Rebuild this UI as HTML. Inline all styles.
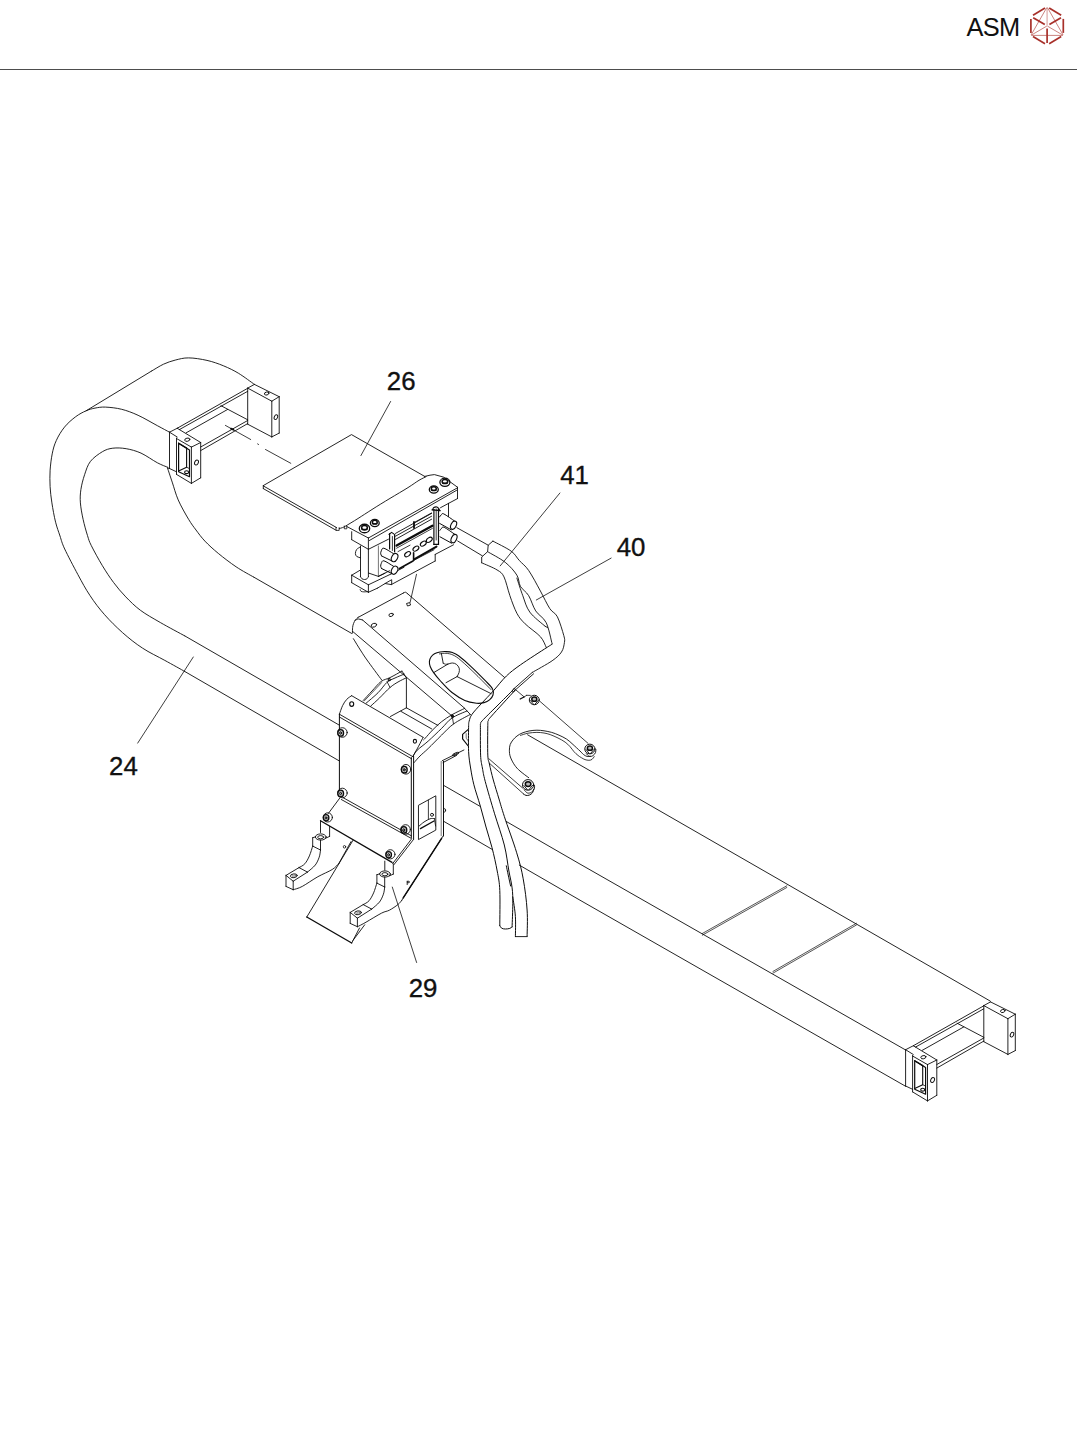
<!DOCTYPE html>
<html><head><meta charset="utf-8"><title>ASM</title>
<style>
html,body{margin:0;padding:0;background:#fff;}
body{width:1077px;height:1449px;position:relative;overflow:hidden;font-family:"Liberation Sans",sans-serif;}
.rule{position:absolute;left:0;top:69px;width:1077px;height:1px;background:#4d4d4d;}
</style></head><body>
<div class="rule"></div>
<svg width="1077" height="1449" viewBox="0 0 1077 1449" style="position:absolute;left:0;top:0">
<g fill="none" stroke="#0c0c0c" stroke-width="0.9" stroke-linecap="round" stroke-linejoin="round">
<path d="M390.6 401.5 L360.9 455.6" stroke-width="0.8"/>
<path d="M559.9 493 L500.2 565.9" stroke-width="0.8"/>
<path d="M611.1 558.1 L536.3 600" stroke-width="0.8"/>
<path d="M193.3 657 L137.7 743.1" stroke-width="0.8"/>
<path d="M392.3 887.1 L416.6 962.5" stroke-width="0.8"/>
<path d="M169.5 432.2 C167.5 431.1 162.6 428.5 157.4 425.7 C152.2 422.9 144 418 138.1 415.3 C132.2 412.6 127.2 410.7 121.7 409.3 C116.2 407.9 109.9 407.3 105.4 407.1 C101 406.9 98.2 407.5 95 408.1 C91.8 408.7 89.3 409.4 86.1 410.8 C82.9 412.2 79.3 414 75.7 416.7 C72.1 419.4 67.7 423.1 64.5 427.1 C61.3 431.1 58.3 436 56.3 440.5 C54.2 445 53.2 448.9 52.2 453.9 C51.2 458.8 50.5 464.8 50.1 470.2 C49.8 475.6 49.8 481.2 50.1 486.6 C50.4 492.1 51 497 51.9 502.9 C52.8 508.8 54.2 516.7 55.6 522.2 C57 527.7 58.5 531.5 60 536 C61.5 540.5 61.7 542.6 64.7 549 C67.7 555.4 73.7 566.8 77.9 574.6 C82.1 582.4 85.6 589 90.1 595.7 C94.5 602.4 99.2 608.6 104.6 614.7 C110 620.8 116.1 626.9 122.4 632.5 C128.7 638.1 135.4 643.5 142.5 648.1 C149.6 652.8 157.8 656.5 164.8 660.4 C171.9 664.3 181.5 669.6 184.8 671.5"/>
<path d="M167.8 467.3 C166.1 466.6 161.9 465.2 157.4 462.8 C152.9 460.4 146.2 455.5 141 453.1 C135.8 450.8 130.9 449.5 126.2 448.7 C121.5 447.9 116.8 447.7 112.8 448.2 C108.8 448.7 106.1 449.5 102.4 451.7 C98.7 453.9 93.5 457.5 90.5 461.3 C87.5 465.1 86.2 470 84.6 474.7 C83 479.4 81.6 484.8 80.9 489.5 C80.2 494.2 80 497.9 80.4 502.9 C80.8 507.9 81.9 513.8 83.1 519.3 C84.3 524.8 86.1 531.2 87.5 535.6 C88.9 540 88.8 540.6 91.3 545.6 C93.8 550.6 98.7 559.6 102.4 565.7 C106.1 571.8 109.6 577.2 113.5 582.4 C117.4 587.6 121.3 592.3 125.8 596.9 C130.3 601.5 134.6 605.9 140.3 610.2 C146.1 614.5 152.9 618.2 160.3 622.5 C167.7 626.8 180.7 633.7 184.8 635.9"/>
<path d="M167.5 468 C168.3 470.4 170.4 476.8 172.2 482.1 C174 487.4 175.5 493.7 178.2 499.9 C180.9 506.1 185.6 514.3 188.6 519.3 C191.6 524.3 193.3 526.4 196 530 C198.7 533.6 201.2 537.2 204.9 541.1 C208.6 545 213.1 549.1 218.3 553.4 C223.5 557.7 230.2 562.8 236.1 566.8 C242 570.8 250.9 575.5 253.9 577.2"/>
<path d="M167.5 468 L169.5 468.5"/>
<path d="M254.4 384.4 C251.8 382.6 243.8 376.5 238.7 373.4 C233.6 370.3 229 368.1 223.7 365.9 C218.4 363.7 212.8 361.7 207 360.4 C201.2 359.1 193.9 357.9 188.6 357.9 C183.3 357.8 179.4 359.1 175.2 360.1 C171 361.2 167.4 362.4 163.5 364.2 C159.6 366 153.8 369.8 151.8 370.9"/>
<path d="M151.8 370.9 L86.1 410.8"/>
<path d="M253.9 577.2 L351.6 633.4"/>
<path d="M527.6 734.8 L990.1 1001"/>
<path d="M184.8 635.9 L339.4 725.2"/>
<path d="M443.5 785.3 L479.6 806.1"/>
<path d="M506.3 821.5 L580 864.1 L905.5 1049.9"/>
<path d="M184.8 671.5 L339.4 761"/>
<path d="M443.5 821.2 L492 849.3"/>
<path d="M519.3 865.1 L580 900.2 L905.5 1086.2"/>
<path d="M702.3 933.5 L786.8 885.8" stroke-width="0.7"/>
<path d="M702.3 935.2 L786.8 887.5" stroke-width="0.7"/>
<path d="M772.9 971.5 L856.4 923.3" stroke-width="0.7"/>
<path d="M772.9 973.2 L856.4 925" stroke-width="0.7"/>
<path d="M169.5 432.2 L169.5 468.5"/>
<path d="M169.5 432.2 L177.3 428.2"/>
<path d="M169.5 432.2 L177.2 437"/>
<path d="M176.5 438 L176.5 474.4"/>
<path d="M177.3 428.3 L200.7 442.5"/>
<path d="M176.5 438.5 L191.4 447.1"/>
<path d="M191.4 447.1 L200.7 442.5"/>
<path d="M191.4 447.1 L191.4 483.4"/>
<path d="M200.7 442.5 L200.7 477.8"/>
<path d="M176.5 474.4 L191.4 483.4"/>
<path d="M191.4 483.4 L200.7 477.8"/>
<path d="M169.5 468.5 L176.5 471.8"/>
<path d="M178.6 443.2 L189.5 449.9 L189.5 476.7 L178.6 471.8Z" stroke-width="1.2"/>
<path d="M186.6 448.1 L186.6 467.2 L178.6 470.9" stroke-width="1.1"/>
<path d="M178.6 443.2 L186.6 448.1" stroke-width="1.3"/>
<path d="M186.6 467.2 L189.5 468.6" stroke-width="0.8"/>
<ellipse cx="187.3" cy="439.7" rx="2.6" ry="1.6" transform="rotate(-12 187.3 439.7)"/>
<ellipse cx="196.5" cy="462.5" rx="1.8" ry="2.6" transform="rotate(25 196.5 462.5)"/>
<ellipse cx="186.6" cy="472.2" rx="2.0" ry="1.4" stroke-width="1.1"/>
<path d="M177.3 428.2 L247.7 388.3"/>
<path d="M179.4 429.6 L247.7 391.3"/>
<path d="M186.2 432.8 L227.7 409.4"/>
<path d="M221 405.7 L247.7 419.8"/>
<path d="M200.7 447 L247.7 420.5"/>
<path d="M200.7 450.6 L247.7 423.6"/>
<path d="M247.7 388.1 L247.7 424.2"/>
<path d="M247.7 388.1 L254.4 384.4"/>
<path d="M254.4 384.4 L279.2 396.7"/>
<path d="M247.7 388.1 L271.8 401.2"/>
<path d="M271.8 401.2 L279.2 396.7"/>
<path d="M271.8 401.2 L271.8 436.9"/>
<path d="M279.2 396.7 L279.2 433.1"/>
<path d="M247.7 424.2 L271.8 436.9"/>
<path d="M271.8 436.9 L279.2 433.1"/>
<ellipse cx="266.7" cy="393.5" rx="2.3" ry="1.5" transform="rotate(-15 266.7 393.5)"/>
<ellipse cx="275.9" cy="417.2" rx="1.6" ry="2.5" transform="rotate(25 275.9 417.2)"/>
<path d="M905.6 1049.7 L905.6 1086"/>
<path d="M905.6 1049.7 L913.4 1045.7"/>
<path d="M905.6 1049.7 L913.3 1054.5"/>
<path d="M912.6 1055.5 L912.6 1091.9"/>
<path d="M913.4 1045.8 L936.8 1060"/>
<path d="M912.6 1056 L927.5 1064.6"/>
<path d="M927.5 1064.6 L936.8 1060"/>
<path d="M927.5 1064.6 L927.5 1100.9"/>
<path d="M936.8 1060 L936.8 1095.3"/>
<path d="M912.6 1091.9 L927.5 1100.9"/>
<path d="M927.5 1100.9 L936.8 1095.3"/>
<path d="M905.6 1086 L912.6 1089.3"/>
<path d="M914.7 1060.7 L925.6 1067.4 L925.6 1094.2 L914.7 1089.3Z" stroke-width="1.2"/>
<path d="M922.7 1065.6 L922.7 1084.7 L914.7 1088.4" stroke-width="1.1"/>
<path d="M914.7 1060.7 L922.7 1065.6" stroke-width="1.3"/>
<path d="M922.7 1084.7 L925.6 1086.1" stroke-width="0.8"/>
<ellipse cx="923.4" cy="1057.2" rx="2.6" ry="1.6" transform="rotate(-12 923.4 1057.2)"/>
<ellipse cx="932.6" cy="1080" rx="1.8" ry="2.6" transform="rotate(25 932.6 1080)"/>
<ellipse cx="922.7" cy="1089.7" rx="2.0" ry="1.4" stroke-width="1.1"/>
<path d="M913.4 1045.7 L983.8 1005.8"/>
<path d="M915.5 1047.1 L983.8 1008.8"/>
<path d="M922.3 1050.3 L963.8 1026.9"/>
<path d="M957.1 1023.2 L983.8 1037.3"/>
<path d="M936.8 1064.5 L983.8 1038"/>
<path d="M936.8 1068.1 L983.8 1041.1"/>
<path d="M983.8 1005.6 L983.8 1041.7"/>
<path d="M983.8 1005.6 L990.5 1001.9"/>
<path d="M990.5 1001.9 L1015.3 1014.2"/>
<path d="M983.8 1005.6 L1007.9 1018.7"/>
<path d="M1007.9 1018.7 L1015.3 1014.2"/>
<path d="M1007.9 1018.7 L1007.9 1054.4"/>
<path d="M1015.3 1014.2 L1015.3 1050.6"/>
<path d="M983.8 1041.7 L1007.9 1054.4"/>
<path d="M1007.9 1054.4 L1015.3 1050.6"/>
<ellipse cx="1002.8" cy="1011" rx="2.3" ry="1.5" transform="rotate(-15 1002.8 1011)"/>
<ellipse cx="1012" cy="1034.7" rx="1.6" ry="2.5" transform="rotate(25 1012 1034.7)"/>
<path d="M225.4 425.4 L250.7 439.5" stroke-width="0.8"/>
<path d="M257.6 443.9 L258.6 444.5" stroke-width="0.8"/>
<path d="M265.5 449.5 L290.8 463.3" stroke-width="0.8"/>
<path d="M231 428.6 L233.4 429.6" stroke-width="1.8"/>
<path d="M263.3 485.6 L351.5 434.6 L424.7 476.4"/>
<path d="M263.3 485.6 L263.3 488.6"/>
<path d="M263.3 485.9 L336.6 527.6"/>
<path d="M263.3 488.6 L336 530.2"/>
<path d="M336 527.4 L336 530.4 L339.2 530.4 L339.2 527.6" stroke-width="0.8"/>
<path d="M339.2 528.6 C339.8 528.4 341.5 528 342.5 527.6 C343.5 527.2 342.7 527.7 345.3 526.2 C347.9 524.7 353.6 521.3 358 518.5 C362.4 515.7 366.7 512.9 372 509.5 C377.3 506.1 384 502 390 498.4 C396 494.8 403.2 490.6 408 487.6 C412.8 484.6 416 482.1 419 480.3 C422 478.5 424.9 477.3 426.1 476.7"/>
<path d="M344.3 526 L344.3 528.8 L346.8 528.8 L346.8 526.3" stroke-width="0.8"/>
<path d="M424.7 476.4 L430 475.2 L434.4 474.6 L443.5 477.1 L457.5 487.2"/>
<path d="M457.5 487.2 L457.5 498.6"/>
<path d="M457.5 487.8 L368.4 538"/>
<path d="M456.6 490.3 L369.4 540.5"/>
<path d="M346.8 526.5 L368.4 538"/>
<path d="M351.7 531.7 L351.7 539.7"/>
<path d="M351.7 539.7 L368.4 549.3"/>
<path d="M368.4 538 L368.4 549.3"/>
<path d="M457.5 498.6 L448.5 503.4"/>
<path d="M448.5 503.4 L448.5 516.6"/>
<path d="M448.5 503.4 L440.5 507.7"/>
<path d="M368.4 549.3 L388.5 539.2"/>
<path d="M413.4 523 L431.5 513"/>
<ellipse cx="444.9" cy="482.3" rx="5.0" ry="4.1" stroke-width="1.3"/>
<ellipse cx="444.9" cy="481.5" rx="2.75" ry="2.1" stroke-width="1.5"/>
<path d="M442.4 483.1 L447.4 483.1" stroke-width="1.0"/>
<ellipse cx="433.8" cy="489.5" rx="4.5" ry="3.69" stroke-width="1.3"/>
<ellipse cx="433.8" cy="488.7" rx="2.475" ry="1.89" stroke-width="1.5"/>
<path d="M431.6 490.3 L436.1 490.3" stroke-width="1.0"/>
<ellipse cx="374.8" cy="523" rx="4.4" ry="3.608" stroke-width="1.3"/>
<ellipse cx="374.8" cy="522.2" rx="2.4200000000000004" ry="1.848" stroke-width="1.5"/>
<path d="M372.6 523.8 L377 523.8" stroke-width="1.0"/>
<ellipse cx="364.5" cy="528.5" rx="5.2" ry="4.264" stroke-width="1.3"/>
<ellipse cx="364.5" cy="527.7" rx="2.8600000000000003" ry="2.184" stroke-width="1.5"/>
<path d="M361.9 529.3 L367.1 529.3" stroke-width="1.0"/>
<path d="M360.5 546 L360.5 576.6"/>
<path d="M368.4 549.3 L368.4 576.6"/>
<path d="M360.5 576.6 C360.8 577 361.3 578.3 362 578.8 C362.7 579.3 363.8 579.5 364.7 579.5 C365.6 579.5 366.6 579.1 367.2 578.6 C367.8 578.1 368.2 576.9 368.4 576.6"/>
<path d="M360.5 546.8 C359.9 547.2 357.5 548.4 356.6 549.5 C355.8 550.6 355.4 552.3 355.4 553.5 C355.4 554.7 355.9 555.8 356.8 556.5 C357.7 557.2 359.9 557.6 360.5 557.8"/>
<path d="M378.4 546 L378.4 576.4" stroke="#666"/>
<path d="M351.7 575.2 L360.1 570.2"/>
<path d="M351.7 575.2 L368.4 584.8"/>
<path d="M351.7 575.2 L351.7 582.7"/>
<path d="M351.7 582.7 L368.4 592.3"/>
<path d="M368.4 584.8 L368.4 592.3"/>
<path d="M368.4 584.8 L391 574"/>
<path d="M368.4 573 L378.4 576.4"/>
<path d="M378.4 576.4 L385 573.2"/>
<path d="M368.4 592.3 L377.6 588.1"/>
<path d="M377.6 588.1 L385.1 583.5 L391.7 584.7 L391.7 579.7 L385.1 583.5"/>
<path d="M391.6 584.4 L435.2 561"/>
<path d="M435.2 561 L435.2 554.4"/>
<path d="M435.2 554.4 L453.5 544.8"/>
<path d="M391 574 L404 567.3"/>
<path d="M360.2 589.6 C360.3 589.9 360.4 590.9 361 591.3 C361.6 591.7 362.9 591.8 364 591.9 C365.1 592 366.9 591.6 367.5 591.6" stroke-width="0.8"/>
<path d="M456.9 527.7 L488.2 545.2"/>
<path d="M457.7 541 L482.3 555.8"/>
<path d="M433.9 509.3 L433.9 544.4" stroke-width="1.2"/>
<path d="M438.5 509.3 L438.5 544.4" stroke-width="1.2"/>
<path d="M436.2 509 L436.2 540" stroke-width="0.8"/>
<path d="M432.6 509.6 C432.8 509.3 433.1 508 433.8 507.6 C434.5 507.2 436 506.8 436.8 507 C437.6 507.2 438.3 508 438.8 508.6 C439.3 509.2 439.5 510.3 439.6 510.6" stroke-width="1.1"/>
<path d="M432 509.8 L440.2 510.6" stroke-width="1.2"/>
<path d="M433.9 544.4 L438.5 544.4" stroke-width="1.2"/>
<path d="M389.6 533.6 L389.6 549" stroke-width="1.2"/>
<path d="M394.6 535.2 L394.6 551.8" stroke-width="1.2"/>
<path d="M392.4 536.5 L392.4 550.5" stroke-width="0.8"/>
<path d="M389 534.4 L391.6 532.4 L394.8 534.6" stroke-width="1.1"/>
<path d="M395.5 533.4 L431.6 513.4"/>
<path d="M395.5 536.2 L431.6 516.2"/>
<path d="M395.5 539.4 L431.6 519.2"/>
<path d="M414 522 L414 528" stroke-width="1.8"/>
<path d="M396.6 545.6 L432.4 525.8" stroke-width="2.3"/>
<path d="M396.6 548.2 L432.4 528.4" stroke-width="0.8"/>
<path d="M398 551.6 L410 545.2" stroke-width="0.8"/>
<ellipse cx="407.6" cy="554.2" rx="3.3" ry="2.0" stroke-width="1.1" transform="rotate(-35 407.6 554.2)"/>
<ellipse cx="415.9" cy="548.6" rx="3.3" ry="2.0" stroke-width="1.1" transform="rotate(-35 415.9 548.6)"/>
<ellipse cx="423.3" cy="543.6" rx="3.3" ry="2.0" stroke-width="1.1" transform="rotate(-35 423.3 543.6)"/>
<ellipse cx="429.3" cy="539.8" rx="3.3" ry="2.0" stroke-width="1.1" transform="rotate(-35 429.3 539.8)"/>
<path d="M413.6 552.8 L413.6 560.4" stroke-width="1.6"/>
<path d="M399.5 568.5 L413 561" stroke-width="1.6"/>
<path d="M414.5 559.2 L436.5 546.6" stroke-width="2.0"/>
<path d="M413.6 560.4 L434 549.8" stroke-width="0.8"/>
<path d="M378.4 576.4 L389.5 570.8"/>
<path d="M352.5 633.1 C352.5 632.2 352.4 629.1 352.6 627.5 C352.8 625.9 353.1 624.6 353.6 623.4 C354.1 622.1 354.6 621 355.4 620 C356.1 619 357.7 617.8 358.1 617.4"/>
<path d="M358.1 617.4 L403.6 592.9"/>
<path d="M403.6 592.9 C403.9 592.8 404.8 592.1 405.4 592.2 C406 592.3 406.9 593.2 407.2 593.4"/>
<path d="M407.2 593.4 L504.6 677.5"/>
<path d="M362.7 620.1 L464.8 708.4"/>
<path d="M355 620.4 C355.6 620.2 357.3 619 358.6 619 C359.9 619 362 619.9 362.7 620.1"/>
<path d="M352.5 631.3 L452.8 716.7"/>
<path d="M353.4 638.7 C354.7 640.8 358.7 647.5 361 651 C363.3 654.5 363.5 655.1 367 660 C370.5 664.9 379.3 676.8 381.8 680.1"/>
<ellipse cx="373.9" cy="625.2" rx="2.8" ry="1.8" transform="rotate(-20 373.9 625.2)"/>
<ellipse cx="391.1" cy="614.9" rx="2.3" ry="1.5" transform="rotate(-20 391.1 614.9)"/>
<path d="M406.9 603.4 L409.6 602.6 L410.6 605 L407.9 605.9Z"/>
<path d="M416.5 574.3 L410.1 602.5" stroke-width="0.8"/>
<path d="M429.4 661.5 C429.5 659.9 430.1 658.3 431 657 C431.9 655.7 433 654.6 434.5 653.8 C436 653 438 652.4 440 652 C442 651.6 444.2 651.5 446.3 651.6 C448.4 651.7 450.5 651.9 452.5 652.6 C454.5 653.3 455.6 653.6 458.5 655.8 C461.4 658 465.6 661.5 470 665.6 C474.4 669.7 481.2 676.5 485 680.4 C488.8 684.3 491.3 686.5 492.6 688.9 C493.9 691.3 493.5 693.2 493 695 C492.5 696.8 491 698.5 489.5 699.8 C488 701.1 486.2 702 484 702.6 C481.8 703.2 479.7 703.6 476.5 703.2 C473.3 702.8 468.9 702.2 464.8 700.4 C460.7 698.6 456.1 695.7 452 692.5 C447.9 689.3 443.6 684.4 440.5 681 C437.4 677.6 435 674.5 433.3 672.1 C431.6 669.7 430.9 668.3 430.2 666.5 C429.5 664.7 429.3 663.1 429.4 661.5Z" stroke-width="1.1"/>
<path d="M439.5 653.9 C440.6 653.8 443.8 653.1 446 653.3 C448.2 653.5 450.5 653.8 453 655 C455.5 656.2 457.2 657.2 461 660.5 C464.8 663.8 471 669.6 476 674.5 C481 679.4 488.5 687.1 491 689.6" stroke-width="0.8"/>
<path d="M433.9 672.5 L447.9 664.1"/>
<path d="M447.9 664.1 C448.6 663.9 451 663 452.4 663 C453.8 663 455.4 663.5 456.5 664.4 C457.6 665.3 458.8 666.8 459.2 668.2 C459.6 669.6 459.4 671.2 459 672.6 C458.6 674 457.4 675.9 457.1 676.6"/>
<path d="M446 682.7 L457.1 676.6"/>
<path d="M457.1 676.6 L491 693.6"/>
<path d="M441.4 653.6 L443.2 663.2"/>
<path d="M443.2 663.2 C443.6 663.4 444.7 664.1 445.5 664.2 C446.3 664.4 447.5 664.1 447.9 664.1" stroke-width="0.8"/>
<path d="M339.4 714.2 L339.4 796.7" stroke-width="1.0"/>
<path d="M339.4 714.2 C339.9 712.8 341.4 708.1 342.6 705.6 C343.8 703.1 345.3 700.9 346.8 699.3 C348.3 697.6 350.9 696.3 351.7 695.7"/>
<path d="M351.7 695.7 L423.1 737.3"/>
<path d="M423.1 737.3 C422.4 738.8 420.3 743 418.6 746.2 C416.9 749.4 413.7 754.9 412.7 756.6"/>
<path d="M339.4 714.2 L412.7 756.6"/>
<path d="M339.4 717 L411.6 758.8"/>
<path d="M411.3 757.5 L411.3 838.4" stroke-width="1.0"/>
<path d="M413.6 756 L413.6 839.4" stroke-width="1.0"/>
<ellipse cx="351.7" cy="704.1" rx="2.0" ry="2.3" stroke-width="1.1"/>
<ellipse cx="414.9" cy="741.3" rx="1.6" ry="1.9" stroke-width="1.1"/>
<ellipse cx="342.4" cy="732.5" rx="4.8" ry="4.8" stroke-width="0.9"/>
<ellipse cx="340.7" cy="732.9" rx="2.88" ry="3.2640000000000002" stroke-width="1.3" fill="#ccc"/>
<ellipse cx="340.6" cy="733" rx="0.96" ry="1.2" stroke-width="1.0"/>
<ellipse cx="406" cy="769.3" rx="4.8" ry="4.8" stroke-width="0.9"/>
<ellipse cx="404.3" cy="769.7" rx="2.88" ry="3.2640000000000002" stroke-width="1.3" fill="#ccc"/>
<ellipse cx="404.2" cy="769.8" rx="0.96" ry="1.2" stroke-width="1.0"/>
<ellipse cx="342.4" cy="793" rx="4.8" ry="4.8" stroke-width="0.9"/>
<ellipse cx="340.7" cy="793.4" rx="2.88" ry="3.2640000000000002" stroke-width="1.3" fill="#ccc"/>
<ellipse cx="340.6" cy="793.5" rx="0.96" ry="1.2" stroke-width="1.0"/>
<ellipse cx="405.6" cy="829.5" rx="4.8" ry="4.8" stroke-width="0.9"/>
<ellipse cx="403.9" cy="829.9" rx="2.88" ry="3.2640000000000002" stroke-width="1.3" fill="#ccc"/>
<ellipse cx="403.8" cy="830" rx="0.96" ry="1.2" stroke-width="1.0"/>
<ellipse cx="327.8" cy="817.4" rx="4.6" ry="4.6" stroke-width="0.9"/>
<ellipse cx="326.1" cy="817.8" rx="2.76" ry="3.128" stroke-width="1.3" fill="#ccc"/>
<ellipse cx="326" cy="817.9" rx="0.9199999999999999" ry="1.15" stroke-width="1.0"/>
<ellipse cx="390.4" cy="854.3" rx="4.6" ry="4.6" stroke-width="0.9"/>
<ellipse cx="388.7" cy="854.7" rx="2.76" ry="3.128" stroke-width="1.3" fill="#ccc"/>
<ellipse cx="388.6" cy="854.8" rx="0.9199999999999999" ry="1.15" stroke-width="1.0"/>
<path d="M343 797.6 L411.5 835.9"/>
<path d="M341.3 799.5 L410.6 838"/>
<path d="M339.9 797.9 L328.4 813.4"/>
<path d="M363.2 700.5 C364.7 698.9 369 694.2 372 691 C375 687.8 378.1 683.7 381.1 681.5 C384.1 679.3 386.5 679.3 390 677.6 C393.5 675.9 399.9 672.2 401.9 671.1"/>
<path d="M364.2 701 L381.6 682.6" stroke-width="0.7"/>
<path d="M366.2 703.1 C368.2 701.4 374.6 696.2 378.1 692.7 C381.6 689.2 384.2 684.8 387 682.3 C389.8 679.8 392.1 679.4 395 678 C397.9 676.6 402.6 674.8 404.1 674.1"/>
<path d="M370.7 706.1 C372.2 704.7 376.4 701 379.6 697.9 C382.8 694.8 386.9 690.1 390 687.5 C393.1 684.9 395.3 683.6 398 682 C400.7 680.4 404.9 678.5 406.3 677.8"/>
<path d="M401.9 671.1 L406.3 677.5"/>
<path d="M387 681.6 L390 687.5" stroke-width="0.8"/>
<ellipse cx="389.2" cy="679.7" rx="1.1" ry="1.1" stroke-width="1.1"/>
<path d="M406.4 677.8 L406.4 707.8"/>
<path d="M406.4 707.8 L390.4 716.5"/>
<path d="M406.4 707.8 L437.9 725.4"/>
<path d="M400.8 711.3 L432 729.1"/>
<path d="M423.6 739.8 C423.9 739.5 423.8 739.8 425.3 738.1 C426.8 736.5 430 732.6 432.7 729.9 C435.4 727.2 438.4 724.2 441.6 721.7 C444.8 719.2 448.2 716.9 452 714.7 C455.8 712.5 462.5 709.5 464.6 708.4"/>
<path d="M412.9 756.6 C413.6 755.5 414.6 752.9 417.1 750.3 C419.7 747.7 424.1 744.8 428.2 741.1 C432.3 737.5 437.6 732.2 441.6 728.4 C445.6 724.5 447.8 720.9 452 718 C456.2 715.1 464.4 712.2 466.9 711"/>
<path d="M414.1 762.6 C415.1 761.5 417.6 758.4 420 756 C422.4 753.6 424.6 752 428.2 748.5 C431.8 745 437.4 739.2 441.6 735.1 C445.8 731 448.8 727.4 453.5 724 C458.2 720.6 467.1 716.2 469.8 714.7"/>
<path d="M464.6 708.4 L470.6 714.7"/>
<path d="M452 714.7 L453.5 724" stroke-width="0.8"/>
<ellipse cx="452.4" cy="716.2" rx="1.1" ry="1.1" stroke-width="1.1"/>
<path d="M442.3 760.7 L463.9 750"/>
<path d="M443 762.6 L456.6 755.4"/>
<ellipse cx="455.6" cy="754" rx="3.4" ry="1.0" stroke-width="0.9" transform="rotate(-27 455.6 754)"/>
<path d="M441.2 761.4 L441.2 835.7" stroke-width="0.8" stroke="#555"/>
<path d="M443.5 761.4 L443.5 836" stroke-width="1.0"/>
<path d="M468 729.6 L462.6 734.4 L462.6 738.8 L467.8 745.5" stroke-width="1.2"/>
<path d="M466.2 733.6 L466.2 738.2 L468 740.6" stroke-width="0.8" stroke="#555"/>
<ellipse cx="444.6" cy="810.3" rx="1.0" ry="1.8" stroke-width="0.8"/>
<path d="M418.8 805.1 L435.8 795.8 L435.8 830.1 L418.8 839.4Z"/>
<path d="M428.4 800.2 L428.4 818.6" stroke-width="0.8"/>
<ellipse cx="432" cy="814.8" rx="1.5" ry="1.5" stroke-width="0.9"/>
<path d="M419.2 826 C420 825.3 422.2 823.2 424 822 C425.8 820.8 428.3 819.4 430 818.8 C431.7 818.2 433.7 818.6 434.4 818.6" stroke-width="0.9"/>
<path d="M420.4 828.6 L434 821" stroke-width="1.3"/>
<path d="M434.4 818.6 L435.6 826" stroke-width="0.8"/>
<path d="M443.3 835.7 L401.5 900.7"/>
<path d="M441.6 838.3 L403.2 897.9" stroke-width="1.5"/>
<path d="M407.2 881.2 L407.2 884.6" stroke-width="0.9"/>
<ellipse cx="408.2" cy="882" rx="1.0" ry="0.9" stroke-width="0.8"/>
<path d="M401.5 900.7 C400.9 901.3 400 902.9 398 904.5 C396 906.1 392.1 908.8 389.4 910.2 C386.7 911.6 385.5 911.1 381.6 913.1 C377.7 915.1 370 919.9 366 922.2 C362 924.5 358.9 926 357.5 926.7"/>
<path d="M320.5 820.8 L392 862.4" stroke-width="1.3"/>
<path d="M411.5 839 L392.6 863.7"/>
<path d="M413.4 839.6 L394 864.6"/>
<path d="M320.5 820.8 L320.5 832.5"/>
<path d="M329.6 826.4 L329.6 836.4"/>
<path d="M329.6 836.4 L325.2 838.4"/>
<ellipse cx="320.8" cy="837" rx="5.4" ry="3.1"/>
<ellipse cx="320.7" cy="837.2" rx="3.0" ry="1.6" stroke-width="0.9"/>
<path d="M312.7 837.7 L315.6 836.8"/>
<path d="M312.7 837.7 L312.7 846.1"/>
<path d="M320.5 840 L320.5 850"/>
<path d="M312.7 846.1 L320.5 850"/>
<path d="M312.7 846.1 C312.1 847.7 310.7 853 309.4 855.9 C308.1 858.8 306.6 861.8 304.9 863.7 C303.2 865.7 300 867 299 867.6"/>
<path d="M299 867.6 L286 875.4"/>
<path d="M320.5 850 C320.3 851.2 320.1 854.7 319.2 857.2 C318.3 859.7 317.2 862.5 315.3 865 C313.4 867.5 308.8 870.9 307.5 872.1"/>
<path d="M299 867.6 L307.5 872.1"/>
<path d="M286 875.4 L286 886.4"/>
<path d="M286 875.4 L293.2 881.2"/>
<path d="M293.2 881.2 L293.2 889.7"/>
<path d="M286 886.4 L293.2 889.7"/>
<path d="M293.2 881.2 L307.5 872.1"/>
<ellipse cx="293.8" cy="875.8" rx="3.4" ry="1.9" transform="rotate(-8 293.8 875.8)"/>
<ellipse cx="294" cy="876" rx="1.8" ry="0.9" stroke="#555" stroke-width="0.6" transform="rotate(-8 294 876)"/>
<path d="M293.2 889.7 C294.7 889.2 298.2 888.6 302.3 886.4 C306.4 884.2 312.9 879.5 317.9 876.7 C322.9 873.9 328.7 871.7 332.2 869.5 C335.7 867.3 337.6 864.7 338.7 863.7"/>
<ellipse cx="385" cy="874" rx="5.4" ry="3.1"/>
<ellipse cx="384.9" cy="874.2" rx="3.0" ry="1.6" stroke-width="0.9"/>
<path d="M376.9 874.7 L379.8 873.8"/>
<path d="M376.9 874.7 L376.9 883.1"/>
<path d="M384.7 877 L384.7 887"/>
<path d="M376.9 883.1 L384.7 887"/>
<path d="M376.9 883.1 C376.3 884.7 374.9 890 373.6 892.9 C372.3 895.8 370.8 898.8 369.1 900.7 C367.4 902.7 364.2 904 363.2 904.6"/>
<path d="M363.2 904.6 L350.2 912.4"/>
<path d="M384.7 887 C384.5 888.2 384.3 891.7 383.4 894.2 C382.5 896.7 381.4 899.5 379.5 902 C377.6 904.5 373 907.9 371.7 909.1"/>
<path d="M363.2 904.6 L371.7 909.1"/>
<path d="M350.2 912.4 L350.2 923.4"/>
<path d="M350.2 912.4 L357.4 918.2"/>
<path d="M357.4 918.2 L357.4 926.7"/>
<path d="M350.2 923.4 L357.4 926.7"/>
<path d="M357.4 918.2 L371.7 909.1"/>
<ellipse cx="358" cy="912.8" rx="3.4" ry="1.9" transform="rotate(-8 358 912.8)"/>
<ellipse cx="358.2" cy="913" rx="1.8" ry="0.9" stroke="#555" stroke-width="0.6" transform="rotate(-8 358.2 913)"/>
<path d="M384.8 861.1 L384.8 870.2"/>
<path d="M393.3 863.9 L393.3 874.1"/>
<path d="M393.3 874.1 L389.2 876"/>
<path d="M353 840.3 L306.8 917"/>
<path d="M351 841.6 L338.7 863.7"/>
<path d="M306.8 917 L351.7 943" stroke-width="1.4"/>
<path d="M351.7 943 L359.5 928"/>
<path d="M353 940.4 L364.7 924.8"/>
<ellipse cx="344.5" cy="846.8" rx="1.2" ry="1.3" stroke-width="0.8"/>
<path d="M492.9 541.1 L488.2 545.2 L487.6 551.7 L481.7 557 L481.7 562.8"/>
<path d="M492.9 541.1 C495.9 542.8 506.7 547.9 511.1 551.1 C515.5 554.3 516.4 557.3 519.3 560.5 C522.2 563.7 525.2 565.4 528.7 570.5 C532.2 575.6 536.9 584.6 540.4 591 C543.9 597.4 547 604.3 549.8 608.6 C552.6 612.9 555.1 612.3 557.4 616.8 C559.7 621.3 562.6 631.3 563.8 635.6 C565 639.9 564.8 639.9 564.4 642.6 C564 645.3 563.5 649 561.5 652 C559.5 655 557 657.4 552.1 660.8 C547.2 664.2 535.5 670.5 532.2 672.5"/>
<path d="M487.6 551.7 C490.5 553.5 500.3 558.4 505.2 562.3 C510.1 566.2 514.4 571.2 516.9 575.2 C519.4 579.2 518.4 582.9 520.4 586.3 C522.4 589.7 526.2 591.6 528.7 595.7 C531.2 599.8 532.8 606.4 535.7 610.9 C538.6 615.4 543.5 617.2 546.2 622.7 C548.9 628.2 551.1 640.3 552.1 643.8"/>
<path d="M516.9 578.1 C517.9 581 520.6 590 522.8 595.7 C524.9 601.4 526.1 607 529.8 612.1 C533.5 617.2 542.5 623.9 545.1 626.2"/>
<path d="M545.1 626.2 L547.6 627.6"/>
<path d="M481.7 562.8 C484.2 564 493.3 567.5 497 569.9 C500.7 572.2 501.9 572.6 504 576.9 C506.1 581.2 507.8 589.6 509.9 595.7 C512 601.8 514.4 608.6 516.9 613.3 C519.4 618 521.2 619.9 525.1 623.8 C529 627.7 536.9 632.8 540.4 636.7 C543.9 640.6 545.2 645.5 546.2 647.3"/>
<path d="M546.2 647.9 L552.1 644.2"/>
<path d="M546.2 647.9 C541.9 650.7 527 660.2 520.4 664.9 C513.8 669.6 510.9 671.7 506.4 676 C501.9 680.3 497.7 686 493.5 690.7 C489.3 695.4 484.6 700.1 481 704 C477.4 707.9 474 711.5 472 714.3 C470 717.1 469.8 718.8 469.2 721 C468.6 723.2 468.7 722.2 468.6 727.3 C468.5 732.4 468.3 744.6 468.6 751.4 C468.9 758.2 469.7 762.4 470.6 768 C471.5 773.6 472.3 778.5 473.9 784.8 C475.5 791.1 478.3 799 480.3 806 C482.3 813 484.1 820.1 486 827 C487.9 833.9 490.1 840.3 492 847.6 C493.9 854.9 495.9 863.9 497.2 871 C498.5 878.1 499.4 881.4 499.8 890.5 C500.2 899.6 499.8 919.8 499.8 925.6" stroke-width="1.0"/>
<path d="M532.2 672.5 L512.9 689.6" stroke-width="0.9"/>
<path d="M533.6 673.8 L514.6 690.6" stroke-width="0.9"/>
<ellipse cx="513.6" cy="690.4" rx="1.0" ry="2.2" stroke-width="0.8" transform="rotate(40 513.6 690.4)"/>
<path d="M512.9 690.1 C510.2 692.8 502.1 700.9 497 706 C491.9 711.1 484.9 717.8 482.2 720.8 C479.5 723.8 480.9 722.9 480.6 724 C480.3 725.1 480.4 722.1 480.4 727.3 C480.4 732.5 480.3 748.3 480.6 755.1 C480.9 761.9 481.6 763.6 482.4 768 C483.2 772.4 483.2 773.7 485.2 781.3 C487.2 788.9 491.4 803.2 494.6 813.8 C497.8 824.4 501.9 835.5 504.3 845 C506.7 854.5 507.6 863.9 508.9 871 C510.2 878.1 511.5 882.5 512.1 887.9 C512.8 893.3 512.8 897 512.8 903.5 C512.8 910 512.2 923 512.1 926.9" stroke-width="1.0"/>
<path d="M514.7 690.6 C510.8 694.9 495.9 711.1 491.5 716.1 C487.1 721.1 489 719 488.4 720.5 C487.8 722 487.9 719.6 487.8 725.4 C487.7 731.2 487.5 748.7 487.8 755.1 C488.1 761.5 488.5 759.9 489.4 764 C490.3 768.1 491.7 774.2 493.3 780 C494.9 785.8 497.2 792.9 499 799 C500.8 805.1 501.4 807.4 504.3 816.4 C507.2 825.4 513.6 842.4 516.7 852.8 C519.9 863.2 521.5 869.3 523.2 878.8 C524.9 888.3 526.5 900.4 527.1 910 C527.8 919.6 527.1 932 527.1 936.4" stroke-width="1.0"/>
<path d="M506.3 865.8 C506.6 867.3 507.5 871.5 508.2 874.9 C508.9 878.3 510.2 884.1 510.6 886" stroke-width="1.0"/>
<path d="M512.8 897 C513.2 900.2 515 909.9 515.4 916.5 C515.8 923.1 515.4 933.2 515.4 936.6" stroke-width="1.0"/>
<path d="M515.4 936.6 L527.1 936.6"/>
<path d="M499.8 925.6 C500.1 926 500.7 927.6 501.6 928.2 C502.5 928.8 504 929 505.4 929 C506.8 929 508.7 928.8 509.8 928.4 C510.9 928 511.7 927.1 512.1 926.9" stroke-width="1.0"/>
<ellipse cx="534.3" cy="700" rx="5.0" ry="4.75" stroke-width="1.0"/>
<ellipse cx="534.3" cy="699.2" rx="2.5" ry="2.1" stroke-width="1.5" fill="#bbb"/>
<path d="M530.5 700.6 L533.5 704.2" stroke-width="0.9"/>
<path d="M535 704.2 L538.3 700.4" stroke-width="0.9"/>
<ellipse cx="589.9" cy="749" rx="5.1" ry="4.845" stroke-width="1.0"/>
<ellipse cx="589.9" cy="748.2" rx="2.55" ry="2.142" stroke-width="1.5" fill="#bbb"/>
<path d="M586.1 749.6 L589.1 753.3" stroke-width="0.9"/>
<path d="M590.7 753.3 L594 749.4" stroke-width="0.9"/>
<path d="M586.3 753.6 C586.8 754.1 588.3 756.1 589.4 756.4 C590.5 756.7 591.9 756.3 593 755.6 C594 755 595 753.6 595.5 752.6 C596 751.6 595.7 750 595.8 749.5" stroke-width="0.9"/>
<ellipse cx="528.1" cy="784.9" rx="5.6" ry="5.319999999999999" stroke-width="1.0"/>
<ellipse cx="528.1" cy="784.1" rx="2.8" ry="2.352" stroke-width="1.5" fill="#bbb"/>
<path d="M523.9 785.5 L527.3 789.7" stroke-width="0.9"/>
<path d="M528.9 789.7 L532.6 785.3" stroke-width="0.9"/>
<path d="M524.2 789.9 C524.7 790.5 526.3 792.6 527.5 793 C528.8 793.4 530.3 792.9 531.5 792.2 C532.6 791.5 533.7 789.9 534.3 788.8 C534.8 787.7 534.5 786 534.5 785.5" stroke-width="0.9"/>
<path d="M515.6 689.7 L523.9 696.7" stroke-width="0.8"/>
<path d="M520.2 699 L524 697" stroke-width="1.3"/>
<path d="M524 697 L526.7 695.3" stroke-width="0.8"/>
<path d="M526.7 695.3 L530.4 695.4" stroke-width="0.8"/>
<path d="M540 701.4 L588 743.3" stroke-width="0.8"/>
<path d="M528.7 777.7 C527.2 776.6 522.4 773.1 520 771 C517.6 768.9 516.2 767.4 514.6 765.1 C513 762.8 511.3 759.5 510.4 757 C509.5 754.5 509.4 752.3 509.4 750.2 C509.4 748.1 509.6 746.2 510.2 744.5 C510.8 742.8 512 741.2 513.1 739.8 C514.2 738.4 515.5 737.1 517 736 C518.5 734.9 520 733.9 522 733.1 C524 732.3 526.5 731.5 529 731 C531.5 730.5 534.4 730.2 536.9 730.2 C539.4 730.2 541.5 730.4 544 730.8 C546.5 731.2 549.2 731.7 551.7 732.4 C554.2 733.1 556.5 734.1 559 735.2 C561.5 736.3 564.3 737.6 566.6 739.1 C568.9 740.6 570.8 742.5 573 744.5 C575.2 746.5 578.2 749.3 580 751 C581.8 752.7 582.4 753.7 583.6 754.6 C584.8 755.5 585.9 756.1 587 756.4 C588.1 756.7 589.9 756.2 590.5 756.2"/>
<path d="M520.5 735.4 C521.8 735 525.3 733.7 528 733.2 C530.7 732.7 534.2 732.4 536.9 732.4 C539.6 732.4 541.8 732.6 544 733 C546.2 733.4 547.9 733.8 550.2 734.6 C552.5 735.4 555.5 736.8 558 738 C560.5 739.2 563.1 740.7 565.1 742.1 C567.1 743.5 568.5 745 570 746.6 C571.5 748.2 572.7 750.2 574 751.7 C575.3 753.2 576.8 754.4 578 755.4 C579.2 756.4 580.2 757 581.4 757.7 C582.6 758.4 583.8 759.2 585 759.6 C586.2 760 587.7 760.3 588.9 760.3 C590.1 760.3 591.1 760 592 759.4 C592.9 758.8 593.8 757.1 594.2 756.6" stroke-width="0.8"/>
<path d="M488.7 758.6 L522.6 788" stroke-width="0.8"/>
<path d="M489.4 763.2 L523.6 794" stroke-width="0.8"/>
<path d="M523.6 794 C524 794.2 525 795.2 526 795.4 C527 795.6 528.4 795.5 529.5 795 C530.6 794.5 531.9 793.6 532.6 792.6 C533.3 791.6 533.6 789.6 533.8 789" stroke-width="1.0"/>
<ellipse cx="394.6" cy="557.6" rx="2.9" ry="4.3" stroke-width="1.1" fill="#fff" transform="rotate(28 394.6 557.6)"/>
<path d="M393.4 553.6 C391.8 552.7 385.9 548.7 383.9 548.2 C381.9 547.7 381.8 549.9 381.3 550.8 C380.8 551.7 380.6 552.9 380.7 553.8 C380.8 554.7 381.5 555.6 381.7 556" stroke-width="1.0"/>
<path d="M381.7 556 L391.8 560.9" stroke-width="1.0"/>
<ellipse cx="394.6" cy="570.2" rx="2.9" ry="4.3" stroke-width="1.1" fill="#fff" transform="rotate(28 394.6 570.2)"/>
<path d="M393.4 566.2 C391.8 565.3 385.9 561.3 383.9 560.8 C381.9 560.3 381.8 562.5 381.3 563.4 C380.8 564.3 380.6 565.5 380.7 566.4 C380.8 567.3 381.5 568.2 381.7 568.6" stroke-width="1.0"/>
<path d="M381.7 568.6 L391.8 573.5" stroke-width="1.0"/>
<ellipse cx="453.6" cy="525.2" rx="2.6" ry="4.4" stroke-width="1.1" fill="#fff" transform="rotate(25 453.6 525.2)"/>
<path d="M454.5 521 C452.7 519.8 446 514.9 443.8 513.9 C441.6 512.9 442 514.3 441.3 514.8 C440.6 515.3 439.8 516.6 439.5 517" stroke-width="1.0"/>
<path d="M439.6 523.4 L451.2 529.8" stroke-width="1.0"/>
<ellipse cx="454" cy="538.6" rx="2.6" ry="4.4" stroke-width="1.1" fill="#fff" transform="rotate(25 454 538.6)"/>
<path d="M454.9 534.4 C453.1 533.2 446.4 528.3 444.2 527.3 C442 526.3 442.4 527.7 441.7 528.2 C441 528.7 440.2 530 439.9 530.4" stroke-width="1.0"/>
<path d="M440 536.8 L451.6 543.2" stroke-width="1.0"/>
</g>
<g stroke="#a8302a" fill="none" stroke-linecap="butt"><line x1="1049.2" y1="8.1" x2="1061.2" y2="15.2" stroke-width="1.7" opacity="1"/><line x1="1063.3" y1="18.9" x2="1063.3" y2="32.9" stroke-width="1.7" opacity="1"/><line x1="1061.2" y1="36.6" x2="1049.2" y2="43.7" stroke-width="1.7" opacity="1"/><line x1="1045.0" y1="43.7" x2="1033.0" y2="36.6" stroke-width="1.7" opacity="1"/><line x1="1030.9" y1="32.9" x2="1030.9" y2="18.9" stroke-width="1.7" opacity="1"/><line x1="1033.0" y1="15.2" x2="1045.0" y2="8.1" stroke-width="1.7" opacity="1"/><line x1="1033.2" y1="17.7" x2="1044.8" y2="24.6" stroke-width="1.7" opacity="1"/><line x1="1061.0" y1="17.7" x2="1049.4" y2="24.6" stroke-width="1.7" opacity="1"/><line x1="1047.1" y1="28.4" x2="1047.1" y2="43.0" stroke-width="1.7" opacity="1"/><line x1="1047.1" y1="8.0" x2="1047.1" y2="25.5" stroke-width="1.3" opacity="0.38"/><line x1="1046.8" y1="7.5" x2="1031.2" y2="34.8" stroke-width="0.7" opacity="0.85"/><line x1="1047.4" y1="7.5" x2="1063.0" y2="34.8" stroke-width="0.7" opacity="0.85"/><line x1="1031.5" y1="35.4" x2="1062.7" y2="35.4" stroke-width="0.7" opacity="0.85"/><line x1="1046.8" y1="26.1" x2="1031.2" y2="35.2" stroke-width="0.7" opacity="0.85"/><line x1="1047.4" y1="26.1" x2="1063.0" y2="35.2" stroke-width="0.7" opacity="0.85"/></g>
<text x="966.6" y="35.7" font-family="Liberation Sans, sans-serif" font-size="25.4" fill="#111" letter-spacing="-0.7">ASM</text><text x="401.2" y="390.3" font-family="Liberation Sans, sans-serif" font-size="25.8" fill="#111" stroke="#111" stroke-width="0.35" text-anchor="middle">26</text><text x="560.2" y="484.0" font-family="Liberation Sans, sans-serif" font-size="25.8" fill="#111" stroke="#111" stroke-width="0.35">41</text><text x="631.0" y="556.0" font-family="Liberation Sans, sans-serif" font-size="25.8" fill="#111" stroke="#111" stroke-width="0.35" text-anchor="middle">40</text><text x="123.4" y="774.9" font-family="Liberation Sans, sans-serif" font-size="25.8" fill="#111" stroke="#111" stroke-width="0.35" text-anchor="middle">24</text><text x="423.1" y="997.3" font-family="Liberation Sans, sans-serif" font-size="25.8" fill="#111" stroke="#111" stroke-width="0.35" text-anchor="middle">29</text>
</svg>
</body></html>
